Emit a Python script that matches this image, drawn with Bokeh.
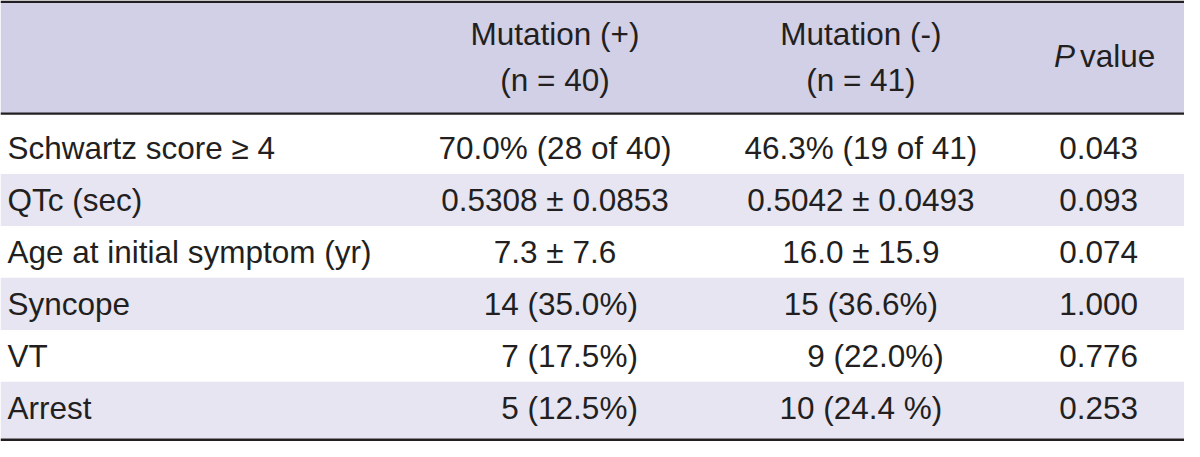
from bokeh.plotting import figure
from bokeh.models import Range1d, ColumnDataSource
from bokeh.core.properties import value
from bokeh.embed import file_html
from bokeh.resources import INLINE

# ---- table content ----
row_labels = ["Schwartz score \u2265 4", "QTc (sec)", "Age at initial symptom (yr)",
              "Syncope", "VT", "Arrest"]
mut_pos = ["70.0% (28 of 40)", "0.5308 \u00b1 0.0853", "7.3 \u00b1 7.6",
           "14 (35.0%)", "7 (17.5%)", "5 (12.5%)"]
mut_neg = ["46.3% (19 of 41)", "0.5042 \u00b1 0.0493", "16.0 \u00b1 15.9",
           "15 (36.6%)", "9 (22.0%)", "10 (24.4 %)"]
p_values = ["0.043", "0.093", "0.074", "1.000", "0.776", "0.253"]
header_pos = ["Mutation (+)", "(n = 40)"]
header_neg = ["Mutation (-)", "(n = 41)"]

# ---- styling / layout (reference pixel coordinates) ----
W, H = 1200, 457
FONT = value("Liberation Sans")
FSIZE = "31.5px"
TXT = "#231f20"
HEAD_BG = "#d2d0e6"
ALT_BG = "#e6e5f1"
LINE = "#231f20"

col1_x = 7
col2_c, col2_r = 562, 646
col3_c, col3_r = 872, 956
col4_c = 1113
col2_align = ["center", "center", "center", "right", "right", "right"]
col3_align = ["center", "center", "center", "center", "right", "center"]

first_center, step = 153, 53.8
n = len(row_labels)
centers = [first_center + step * i for i in range(n)]

p = figure(width=1184, height=441, x_range=Range1d(0, W), y_range=Range1d(H, 0),
           output_backend="svg", toolbar_location=None, min_border=0,
           background_fill_color="white", border_fill_color="white")
p.axis.visible = False
p.grid.visible = False
p.outline_line_color = None

# header background
p.quad(left=[0], right=[W], top=[2], bottom=[117], fill_color=HEAD_BG, line_color=None)

# alternating row bands
tops, bottoms = [], []
for i, c in enumerate(centers):
    if i % 2 == 1:
        tops.append(c - 27)
        bottoms.append(H - 3 if i == n - 1 else c + 27)
p.quad(left=[0] * len(tops), right=[W] * len(tops), top=tops, bottom=bottoms,
       fill_color=ALT_BG, line_color=None)

# rules
p.quad(left=[0, 0, 0], right=[W, W, W], top=[0, 116, 454], bottom=[2.5, 118.5, 457],
       fill_color=LINE, line_color=None)

common = dict(text_font=FONT, text_font_size=FSIZE, text_color=TXT, text_baseline="middle")

# header texts
p.text(x=[col2_c, col2_c, col3_c, col3_c], y=[35, 82, 35, 82],
       text=header_pos + header_neg, text_align="center", **common)
p.text(x=[1089], y=[57], text=["P"], text_align="right", text_font_style="italic", **common)
p.text(x=[1094], y=[57], text=["value"], text_align="left", **common)

# body
p.text(x=[col1_x] * n, y=centers, text=row_labels, text_align="left", **common)

src2 = ColumnDataSource(dict(
    x=[col2_r if a == "right" else col2_c for a in col2_align], y=centers,
    t=mut_pos, a=col2_align))
p.text(x="x", y="y", text="t", text_align="a", source=src2, **common)

src3 = ColumnDataSource(dict(
    x=[col3_r if a == "right" else col3_c for a in col3_align], y=centers,
    t=mut_neg, a=col3_align))
p.text(x="x", y="y", text="t", text_align="a", source=src3, **common)

p.text(x=[col4_c] * n, y=centers, text=p_values, text_align="center", **common)

open("out.html", "w").write(file_html(p, INLINE))
